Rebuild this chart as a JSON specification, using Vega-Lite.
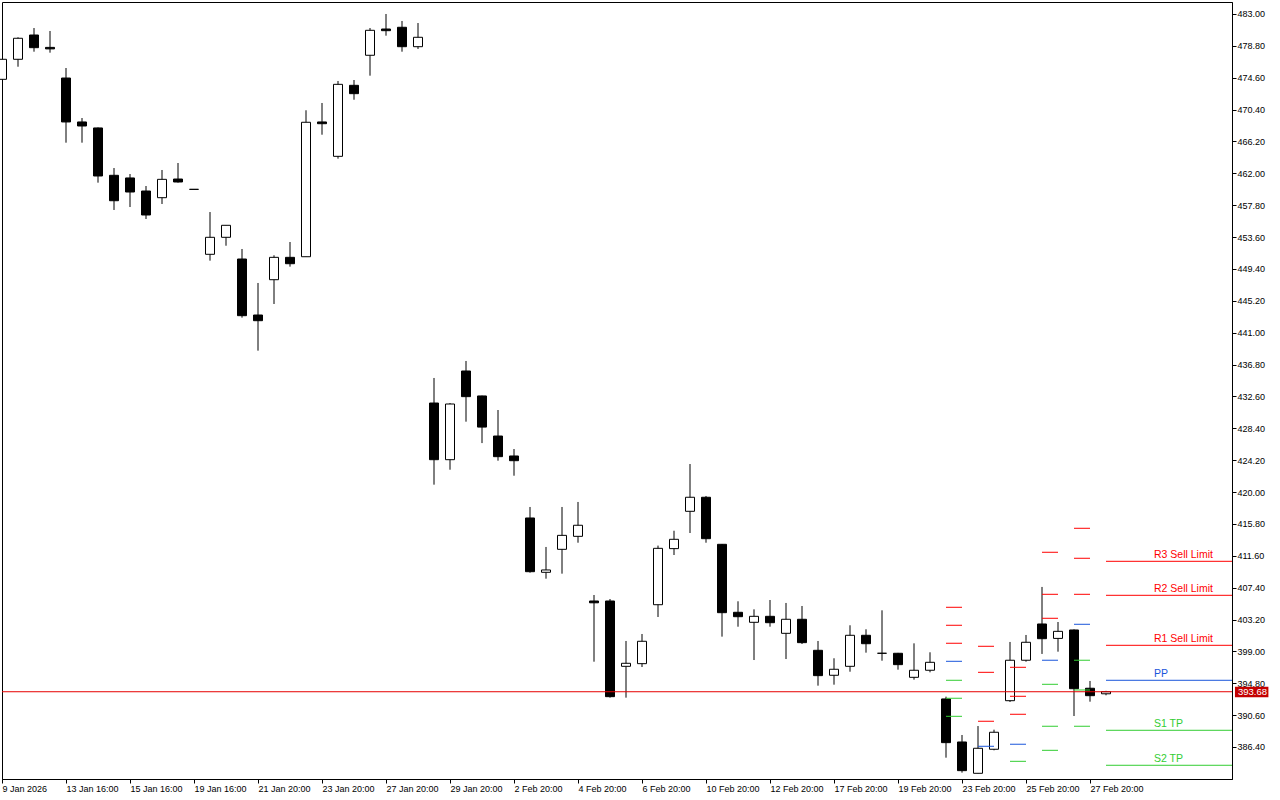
{
  "$schema": "https://vega.github.io/schema/vega-lite/v6.json",
  "autosize": "none",
  "width": 1230,
  "height": 777,
  "padding": {"left": 2, "top": 2, "right": 48, "bottom": 21},
  "background": "#ffffff",
  "config": {
    "view": {"stroke": "#000000", "strokeWidth": 1},
    "axis": {"labelFont": "Liberation Sans", "labelFontSize": 9, "labelColor": "#000000", "domainColor": "#000000", "tickColor": "#000000", "grid": false, "labelFlush": false, "labelOverlap": false, "labelBound": false}
  },
  "datasets": {
    "candles": [
      {"bar": 0, "open": 474.39, "high": 477.03, "low": 474.39, "close": 477.03},
      {"bar": 1, "open": 477.03, "high": 479.93, "low": 476.05, "close": 479.80},
      {"bar": 2, "open": 480.23, "high": 481.15, "low": 478.03, "close": 478.56},
      {"bar": 3, "open": 478.60, "high": 480.76, "low": 477.90, "close": 478.40},
      {"bar": 4, "open": 474.56, "high": 475.88, "low": 466.04, "close": 468.77},
      {"bar": 5, "open": 468.77, "high": 469.29, "low": 466.04, "close": 468.24},
      {"bar": 6, "open": 467.98, "high": 468.05, "low": 460.77, "close": 461.65},
      {"bar": 7, "open": 461.74, "high": 462.70, "low": 457.17, "close": 458.39},
      {"bar": 8, "open": 461.39, "high": 461.91, "low": 457.56, "close": 459.54},
      {"bar": 9, "open": 459.67, "high": 460.33, "low": 455.98, "close": 456.51},
      {"bar": 10, "open": 458.79, "high": 462.44, "low": 457.96, "close": 461.21},
      {"bar": 11, "open": 461.25, "high": 463.36, "low": 460.77, "close": 460.86},
      {"bar": 12, "open": 459.89, "high": 459.89, "low": 459.89, "close": 459.89},
      {"bar": 13, "open": 451.33, "high": 456.90, "low": 450.49, "close": 453.57},
      {"bar": 14, "open": 453.57, "high": 455.15, "low": 452.46, "close": 455.15},
      {"bar": 15, "open": 450.71, "high": 452.03, "low": 442.98, "close": 443.24},
      {"bar": 16, "open": 443.33, "high": 447.55, "low": 438.63, "close": 442.58},
      {"bar": 17, "open": 447.98, "high": 451.20, "low": 444.78, "close": 450.93},
      {"bar": 18, "open": 450.93, "high": 452.95, "low": 449.70, "close": 450.09},
      {"bar": 19, "open": 451.01, "high": 470.31, "low": 451.01, "close": 468.73},
      {"bar": 20, "open": 468.77, "high": 471.27, "low": 467.09, "close": 468.54},
      {"bar": 21, "open": 464.24, "high": 474.17, "low": 463.93, "close": 473.73},
      {"bar": 22, "open": 473.60, "high": 474.30, "low": 471.70, "close": 472.50},
      {"bar": 23, "open": 477.56, "high": 481.15, "low": 474.87, "close": 480.85},
      {"bar": 24, "open": 481.02, "high": 483.00, "low": 480.14, "close": 480.80},
      {"bar": 25, "open": 481.25, "high": 482.08, "low": 478.03, "close": 478.69},
      {"bar": 26, "open": 478.69, "high": 481.81, "low": 478.39, "close": 479.93},
      {"bar": 27, "open": 431.73, "high": 435.03, "low": 420.97, "close": 424.26},
      {"bar": 28, "open": 424.26, "high": 431.73, "low": 422.94, "close": 431.60},
      {"bar": 29, "open": 435.95, "high": 437.27, "low": 429.27, "close": 432.57},
      {"bar": 30, "open": 432.66, "high": 432.70, "low": 426.45, "close": 428.56},
      {"bar": 31, "open": 427.38, "high": 430.81, "low": 424.13, "close": 424.66},
      {"bar": 32, "open": 424.75, "high": 425.67, "low": 422.15, "close": 424.13},
      {"bar": 33, "open": 416.58, "high": 418.03, "low": 409.37, "close": 409.50},
      {"bar": 34, "open": 409.42, "high": 412.76, "low": 408.58, "close": 409.73},
      {"bar": 35, "open": 412.45, "high": 418.03, "low": 409.24, "close": 414.29},
      {"bar": 36, "open": 414.16, "high": 418.69, "low": 413.32, "close": 415.62},
      {"bar": 37, "open": 405.64, "high": 406.43, "low": 397.64, "close": 405.40},
      {"bar": 38, "open": 405.64, "high": 405.90, "low": 392.90, "close": 393.03},
      {"bar": 39, "open": 397.03, "high": 400.37, "low": 392.90, "close": 397.43},
      {"bar": 40, "open": 397.38, "high": 401.29, "low": 396.94, "close": 400.33},
      {"bar": 41, "open": 405.15, "high": 412.94, "low": 403.53, "close": 412.58},
      {"bar": 42, "open": 412.54, "high": 414.90, "low": 411.70, "close": 413.77},
      {"bar": 43, "open": 417.46, "high": 423.69, "low": 414.60, "close": 419.31},
      {"bar": 44, "open": 419.31, "high": 419.48, "low": 413.32, "close": 413.85},
      {"bar": 45, "open": 413.11, "high": 413.15, "low": 400.94, "close": 404.10},
      {"bar": 46, "open": 404.15, "high": 405.60, "low": 402.25, "close": 403.57},
      {"bar": 47, "open": 402.83, "high": 404.54, "low": 397.86, "close": 403.62},
      {"bar": 48, "open": 403.62, "high": 405.77, "low": 402.25, "close": 402.78},
      {"bar": 49, "open": 401.38, "high": 405.38, "low": 397.99, "close": 403.23},
      {"bar": 50, "open": 403.23, "high": 404.98, "low": 399.97, "close": 400.15},
      {"bar": 51, "open": 399.14, "high": 400.37, "low": 394.48, "close": 395.80},
      {"bar": 52, "open": 395.85, "high": 398.09, "low": 394.61, "close": 396.64},
      {"bar": 53, "open": 397.03, "high": 402.44, "low": 396.32, "close": 401.12},
      {"bar": 54, "open": 401.12, "high": 401.91, "low": 398.83, "close": 400.01},
      {"bar": 55, "open": 398.75, "high": 404.41, "low": 397.77, "close": 398.75},
      {"bar": 56, "open": 398.75, "high": 398.80, "low": 396.59, "close": 397.25},
      {"bar": 57, "open": 395.58, "high": 400.06, "low": 395.27, "close": 396.51},
      {"bar": 58, "open": 396.51, "high": 398.88, "low": 396.24, "close": 397.56},
      {"bar": 59, "open": 392.73, "high": 393.03, "low": 384.99, "close": 386.97},
      {"bar": 60, "open": 387.06, "high": 387.98, "low": 383.02, "close": 383.28},
      {"bar": 61, "open": 382.93, "high": 389.16, "low": 382.93, "close": 386.23},
      {"bar": 62, "open": 386.10, "high": 388.68, "low": 385.96, "close": 388.34},
      {"bar": 63, "open": 392.50, "high": 400.24, "low": 392.33, "close": 397.83},
      {"bar": 64, "open": 397.83, "high": 401.16, "low": 397.64, "close": 400.20},
      {"bar": 65, "open": 402.61, "high": 407.49, "low": 398.66, "close": 400.67},
      {"bar": 66, "open": 400.71, "high": 402.87, "low": 398.96, "close": 401.64},
      {"bar": 67, "open": 401.82, "high": 401.90, "low": 390.48, "close": 394.08},
      {"bar": 68, "open": 394.14, "high": 395.10, "low": 392.37, "close": 393.16},
      {"bar": 69, "open": 393.41, "high": 393.80, "low": 393.21, "close": 393.68}
    ],
    "pivots": [
      {"bar": 59, "bar_end": 60, "kind": "R", "price": 404.81},
      {"bar": 59, "bar_end": 60, "kind": "R", "price": 402.44},
      {"bar": 59, "bar_end": 60, "kind": "R", "price": 400.07},
      {"bar": 59, "bar_end": 60, "kind": "PP", "price": 397.69},
      {"bar": 59, "bar_end": 60, "kind": "S", "price": 395.19},
      {"bar": 59, "bar_end": 60, "kind": "S", "price": 392.82},
      {"bar": 59, "bar_end": 60, "kind": "S", "price": 390.44},
      {"bar": 61, "bar_end": 62, "kind": "R", "price": 399.67},
      {"bar": 61, "bar_end": 62, "kind": "R", "price": 396.24},
      {"bar": 61, "bar_end": 62, "kind": "R", "price": 389.79},
      {"bar": 61, "bar_end": 62, "kind": "PP", "price": 386.49},
      {"bar": 63, "bar_end": 64, "kind": "R", "price": 396.90},
      {"bar": 63, "bar_end": 64, "kind": "R", "price": 393.08},
      {"bar": 63, "bar_end": 64, "kind": "R", "price": 390.71},
      {"bar": 63, "bar_end": 64, "kind": "PP", "price": 386.76},
      {"bar": 63, "bar_end": 64, "kind": "S", "price": 384.51},
      {"bar": 65, "bar_end": 66, "kind": "R", "price": 412.06},
      {"bar": 65, "bar_end": 66, "kind": "R", "price": 406.52},
      {"bar": 65, "bar_end": 66, "kind": "R", "price": 403.36},
      {"bar": 65, "bar_end": 66, "kind": "PP", "price": 397.83},
      {"bar": 65, "bar_end": 66, "kind": "S", "price": 394.66},
      {"bar": 65, "bar_end": 66, "kind": "S", "price": 389.13},
      {"bar": 65, "bar_end": 66, "kind": "S", "price": 385.96},
      {"bar": 67, "bar_end": 68, "kind": "R", "price": 415.22},
      {"bar": 67, "bar_end": 68, "kind": "R", "price": 411.27},
      {"bar": 67, "bar_end": 68, "kind": "R", "price": 406.52},
      {"bar": 67, "bar_end": 68, "kind": "PP", "price": 402.57},
      {"bar": 67, "bar_end": 68, "kind": "S", "price": 397.83},
      {"bar": 67, "bar_end": 68, "kind": "S", "price": 393.91},
      {"bar": 67, "bar_end": 68, "kind": "S", "price": 389.13}
    ],
    "levels": [
      {"bar": 69, "bar_end": 77, "kind": "R", "label": "R3 Sell Limit", "price": 410.87},
      {"bar": 69, "bar_end": 77, "kind": "R", "label": "R2 Sell Limit", "price": 406.39},
      {"bar": 69, "bar_end": 77, "kind": "R", "label": "R1 Sell Limit", "price": 399.80},
      {"bar": 69, "bar_end": 77, "kind": "PP", "label": "PP", "price": 395.19},
      {"bar": 69, "bar_end": 77, "kind": "S", "label": "S1 TP", "price": 388.60},
      {"bar": 69, "bar_end": 77, "kind": "S", "label": "S2 TP", "price": 383.99}
    ],
    "last": [{"price": 393.68, "label": "393.68"}]
  },
  "layer": [
    {
      "data": {"name": "candles"},
      "mark": {"type": "rule", "color": "#000000", "strokeWidth": 1},
      "encoding": {
        "x": {"field": "bar", "type": "quantitative", "title": null,
          "scale": {"domain": [0, 76.875], "nice": false, "zero": false, "padding": 0},
          "axis": {"orient": "bottom", "values": [0, 4, 8, 12, 16, 20, 24, 28, 32, 36, 40, 44, 48, 52, 56, 60, 64, 68], "tickCount": 40, "tickSize": 4, "labelAlign": "left", "labelBaseline": "top", "labelPadding": 1, "labelOverlap": false, "labelFlush": false, "labelExpr": "['9 Jan 2026','13 Jan 16:00','15 Jan 16:00','19 Jan 16:00','21 Jan 20:00','23 Jan 20:00','27 Jan 20:00','29 Jan 20:00','2 Feb 20:00','4 Feb 20:00','6 Feb 20:00','10 Feb 20:00','12 Feb 20:00','17 Feb 20:00','19 Feb 20:00','23 Feb 20:00','25 Feb 20:00','27 Feb 20:00'][datum.value/4]"}},
        "y": {"field": "low", "type": "quantitative", "title": null,
          "scale": {"domain": [382.18, 484.58], "nice": false, "zero": false},
          "axis": {"orient": "right", "values": [386.4, 390.6, 394.8, 399.0, 403.2, 407.4, 411.6, 415.8, 420.0, 424.2, 428.4, 432.6, 436.8, 441.0, 445.2, 449.4, 453.6, 457.8, 462.0, 466.2, 470.4, 474.6, 478.8, 483.0], "tickCount": 40, "format": ".2f", "tickSize": 4, "labelPadding": 1, "labelBaseline": "middle", "labelOverlap": false, "labelFlush": false}},
        "y2": {"field": "high"}
      }
    },
    {
      "data": {"name": "candles"},
      "mark": {"type": "bar", "width": 9, "stroke": "#000000", "strokeWidth": 1},
      "encoding": {
        "x": {"field": "bar", "type": "quantitative", "title": null, "scale": {"domain": [0, 76.875], "nice": false, "zero": false, "padding": 0}},
        "y": {"field": "open", "type": "quantitative", "title": null, "scale": {"domain": [382.18, 484.58], "nice": false, "zero": false}},
        "y2": {"field": "close"},
        "fill": {"condition": {"test": "datum.close >= datum.open", "value": "#ffffff"}, "value": "#000000"}
      }
    },
    {
      "data": {"name": "pivots"},
      "mark": {"type": "rule", "strokeWidth": 1},
      "encoding": {
        "x": {"field": "bar", "type": "quantitative", "title": null, "scale": {"domain": [0, 76.875], "nice": false, "zero": false, "padding": 0}},
        "x2": {"field": "bar_end"},
        "y": {"field": "price", "type": "quantitative", "title": null, "scale": {"domain": [382.18, 484.58], "nice": false, "zero": false}},
        "color": {"field": "kind", "type": "nominal", "scale": {"domain": ["R", "PP", "S"], "range": ["#ff0000", "#1a56db", "#32cd32"]}, "legend": null}
      }
    },
    {
      "data": {"name": "levels"},
      "mark": {"type": "rule", "strokeWidth": 1, "clip": true},
      "encoding": {
        "x": {"field": "bar", "type": "quantitative", "title": null, "scale": {"domain": [0, 76.875], "nice": false, "zero": false, "padding": 0}},
        "x2": {"field": "bar_end"},
        "y": {"field": "price", "type": "quantitative", "title": null, "scale": {"domain": [382.18, 484.58], "nice": false, "zero": false}},
        "color": {"field": "kind", "type": "nominal", "scale": {"domain": ["R", "PP", "S"], "range": ["#ff0000", "#1a56db", "#32cd32"]}, "legend": null}
      }
    },
    {
      "data": {"name": "levels"},
      "mark": {"type": "text", "align": "left", "baseline": "alphabetic", "dy": -3.5, "font": "Liberation Sans", "fontSize": 10.5},
      "encoding": {
        "x": {"datum": 72, "type": "quantitative", "scale": {"domain": [0, 76.875], "nice": false, "zero": false, "padding": 0}},
        "y": {"field": "price", "type": "quantitative", "title": null, "scale": {"domain": [382.18, 484.58], "nice": false, "zero": false}},
        "text": {"field": "label"},
        "color": {"field": "kind", "type": "nominal", "scale": {"domain": ["R", "PP", "S"], "range": ["#ff0000", "#1e5ae6", "#6fd43a"]}, "legend": null}
      }
    },
    {
      "data": {"name": "last"},
      "mark": {"type": "rule", "color": "#e60000", "strokeWidth": 1},
      "encoding": {
        "y": {"field": "price", "type": "quantitative", "title": null, "scale": {"domain": [382.18, 484.58], "nice": false, "zero": false}}
      }
    },
    {
      "data": {"name": "last"},
      "mark": {"type": "rect", "color": "#c40000", "yOffset": -5, "y2Offset": 5.5},
      "encoding": {
        "x": {"datum": 77.06, "type": "quantitative", "scale": {"domain": [0, 76.875], "nice": false, "zero": false, "padding": 0}},
        "x2": {"datum": 79.15},
        "y": {"field": "price", "type": "quantitative", "title": null, "scale": {"domain": [382.18, 484.58], "nice": false, "zero": false}},
        "y2": {"field": "price"}
      }
    },
    {
      "data": {"name": "last"},
      "mark": {"type": "text", "color": "#ffffff", "align": "left", "baseline": "middle", "font": "Liberation Sans", "fontSize": 9.5, "dy": 0.5},
      "encoding": {
        "x": {"datum": 77.25, "type": "quantitative", "scale": {"domain": [0, 76.875], "nice": false, "zero": false, "padding": 0}},
        "y": {"field": "price", "type": "quantitative", "title": null, "scale": {"domain": [382.18, 484.58], "nice": false, "zero": false}},
        "text": {"field": "label"}
      }
    }
  ]
}
